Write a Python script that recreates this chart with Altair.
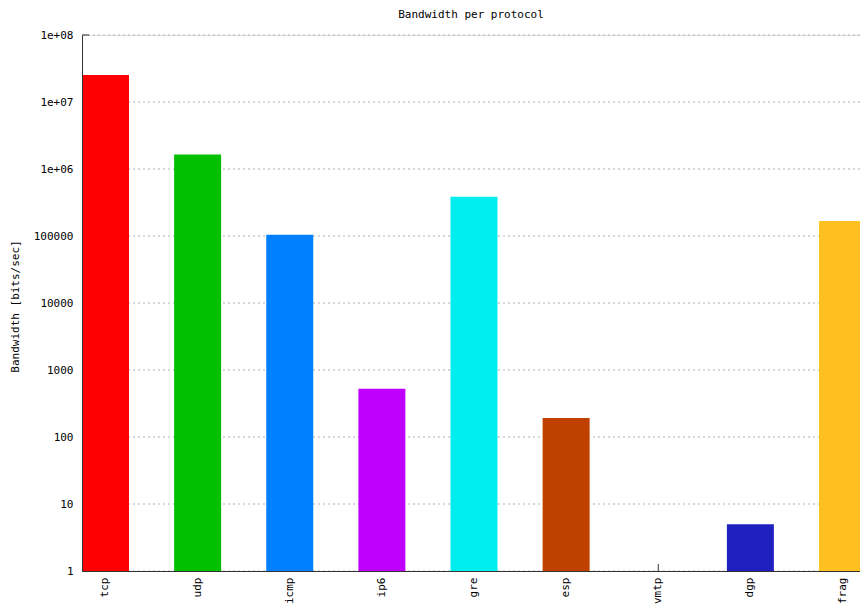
import altair as alt
import pandas as pd

# Per-protocol bandwidth, bits/sec (vmtp carried no traffic)
protocols = ["tcp", "udp", "icmp", "ip6", "gre", "esp", "vmtp", "dgp", "frag"]
bandwidth = [2.53e7, 1.65e6, 1.04e5, 525, 3.86e5, 192, 0, 5, 1.67e5]
bar_colors = ["#ff0000", "#00c000", "#0080ff", "#c000ff", "#00eeee",
              "#c04000", "#c8c800", "#2020c0", "#ffc020"]

# Major decades on the log axis
y_ticks = [1, 10, 100, 1000, 10000, 100000, 1e6, 1e7, 1e8]

FONT = "DejaVu Sans Mono"
AXIS_COLOR = "#333333"

bars_df = pd.DataFrame({"protocol": protocols, "bandwidth": bandwidth})
ticks_df = pd.DataFrame({"v": y_ticks})
cats_df = pd.DataFrame({"protocol": protocols})

W, H = 778, 536

x_scale = alt.Scale(domain=protocols, range=[0, 784], paddingInner=0.49, paddingOuter=0)
y_scale = alt.Scale(type="log", domain=[1, 1e8], nice=False)

label_expr = ("datum.value >= 1000000 ? '1e+0' + round(log(datum.value) / LN10)"
              " : format(datum.value, 'd')")

x_axis = alt.Axis(
    title=None, grid=False, ticks=False, domain=True,
    domainColor=AXIS_COLOR, labelAngle=270, labelAlign="right",
    labelBaseline="middle", labelPadding=6, labelFont=FONT,
    labelFontSize=11, labelColor="#000000", zindex=2,
)
y_axis = alt.Axis(
    title="Bandwidth [bits/sec]", values=y_ticks, labelExpr=label_expr,
    grid=False, ticks=False, domain=True, domainColor=AXIS_COLOR,
    labelPadding=9, labelFont=FONT, labelFontSize=11, labelColor="#000000",
    titleFont=FONT, titleFontSize=11, titleFontWeight="normal",
    titleColor="#000000", titleAngle=270, titleAlign="center",
    titleBaseline="middle", titleX=-67, titleY=271, zindex=2,
)

# dashed horizontal grid behind the bars
grid = alt.Chart(ticks_df).mark_rule(
    color="#b0b0b0", strokeDash=[2, 3], strokeWidth=1
).encode(
    y=alt.Y("v:Q", scale=y_scale, axis=y_axis)
)

# inward ticks on the left axis at each decade
left_ticks = alt.Chart(ticks_df).mark_rule(color=AXIS_COLOR, strokeWidth=1).encode(
    y=alt.Y("v:Q", scale=y_scale, axis=y_axis),
    x=alt.value(0),
    x2=alt.value(7),
)

# inward ticks on the bottom axis at each category
bottom_ticks = alt.Chart(cats_df).mark_rule(color=AXIS_COLOR, strokeWidth=1).encode(
    x=alt.X("protocol:N", scale=x_scale, sort=protocols, axis=x_axis),
    y=alt.value(H),
    y2=alt.value(H - 7),
)

bars = alt.Chart(bars_df).transform_filter(
    alt.datum.bandwidth > 0
).mark_bar().encode(
    x=alt.X("protocol:N", scale=x_scale, sort=protocols, axis=x_axis),
    y=alt.Y("bandwidth:Q", scale=y_scale, stack=None, axis=y_axis),
    color=alt.Color("protocol:N", scale=alt.Scale(domain=protocols, range=bar_colors),
                    legend=None),
)

chart = alt.layer(grid, left_ticks, bottom_ticks, bars).properties(
    width=W,
    height=H,
    title=alt.TitleParams(
        "Bandwidth per protocol", font=FONT, fontSize=11, fontWeight="normal",
        color="#000000", anchor="middle", offset=9,
    ),
    autosize=alt.AutoSizeParams(type="none"),
    padding={"left": 82, "top": 35, "right": 0, "bottom": 37},
).configure_view(strokeWidth=0).configure(background="#ffffff")

chart.save("out.html", embed_options={"renderer": "svg", "actions": False})
